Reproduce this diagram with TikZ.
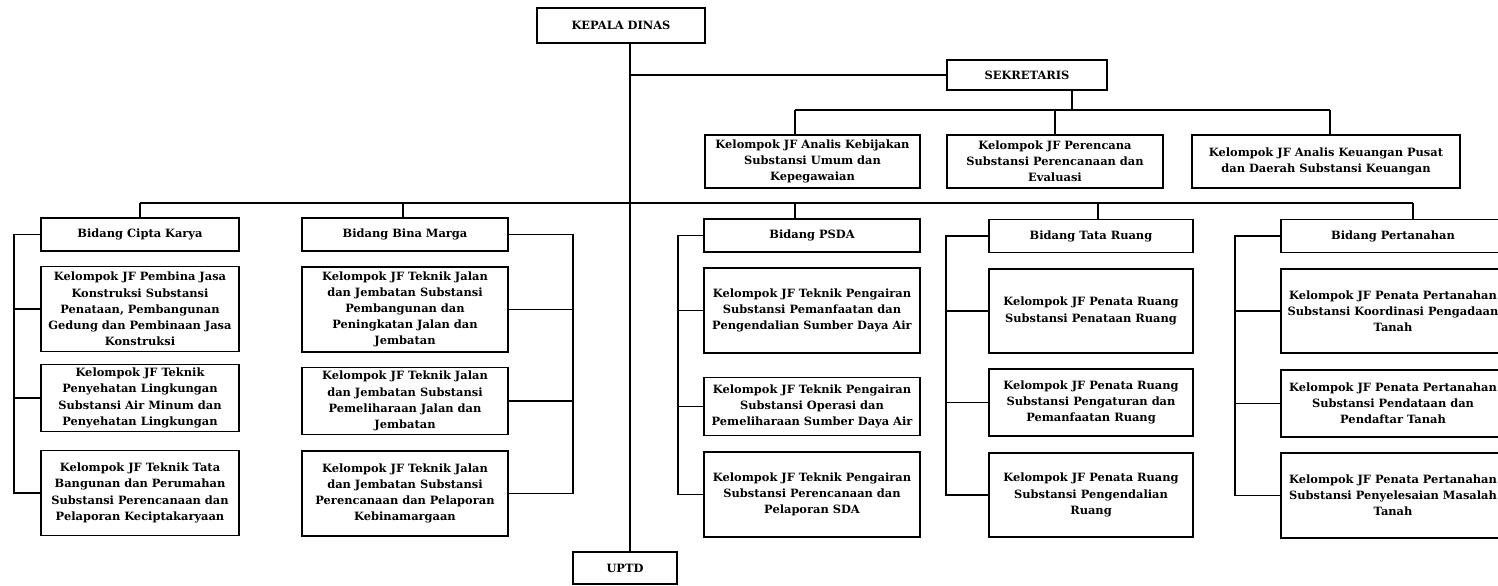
\documentclass[tikz,border=0pt]{standalone}
\usepackage{fontspec}
\setmainfont{DejaVu Serif}
\usetikzlibrary{positioning}
\usetikzlibrary{calc}
\tikzset{box/.style={draw,line width=0.9pt,align=center,inner sep=1pt,font=\fontsize{6.5}{9.2}\selectfont\bfseries}}
\tikzset{ln/.style={line width=0.9pt}}

\begin{document}
\begin{tikzpicture}[x=0.02cm,y=-0.02cm]
\useasboundingbox (0,0) rectangle (1498,585);
\begin{scope}
% top
\node[box,minimum width=3.36cm,minimum height=0.7cm] (KD) at (621,25.5) {KEPALA DINAS};
\node[box,minimum width=3.2cm,minimum height=0.6cm] (SK) at (1027,75) {SEKRETARIS};
\node[box,minimum width=2.08cm,minimum height=0.64cm] (U) at (625,568) {UPTD};

\node[box,minimum width=4.3cm,minimum height=1.06cm] (J1) at (812.5,161.5) {Kelompok JF Analis Kebijakan\\Substansi Umum dan\\Kepegawaian};
\node[box,minimum width=4.32cm,minimum height=1.06cm] (J2) at (1055,161.5) {Kelompok JF Perencana\\Substansi Perencanaan dan\\Evaluasi};
\node[box,minimum width=5.36cm,minimum height=1.06cm] (J3) at (1326,161.5) {Kelompok JF Analis Keuangan Pusat\\dan Daerah Substansi Keuangan};

% bidang
\node[box,minimum width=3.96cm,minimum height=0.66cm] (CK) at (140,234.5) {Bidang Cipta Karya};
\node[box,minimum width=4.12cm,minimum height=0.66cm] (BM) at (405,234.5) {Bidang Bina Marga};
\node[box,minimum width=4.32cm,minimum height=0.66cm] (PS) at (812,235.5) {Bidang PSDA};
\node[box,minimum width=4.08cm,minimum height=0.66cm] (TR) at (1091,236) {Bidang Tata Ruang};
\node[box,minimum width=4.48cm,minimum height=0.66cm] (PT) at (1393,236) {Bidang Pertanahan};

% cipta karya
\node[box,minimum width=3.96cm,minimum height=1.7cm] (CK1) at (140,309) {Kelompok JF Pembina Jasa\\Konstruksi Substansi\\Penataan, Pembangunan\\Gedung dan Pembinaan Jasa\\Konstruksi};
\node[box,minimum width=3.96cm,minimum height=1.34cm] (CK2) at (140,398) {Kelompok JF Teknik\\Penyehatan Lingkungan\\Substansi Air Minum dan\\Penyehatan Lingkungan};
\node[box,minimum width=3.96cm,minimum height=1.7cm] (CK3) at (140,493) {Kelompok JF Teknik Tata\\Bangunan dan Perumahan\\Substansi Perencanaan dan\\Pelaporan Keciptakaryaan};

% bina marga
\node[box,minimum width=4.12cm,minimum height=1.7cm] (BM1) at (405,309.5) {Kelompok JF Teknik Jalan\\dan Jembatan Substansi\\Pembangunan dan\\Peningkatan Jalan dan\\Jembatan};
\node[box,minimum width=4.12cm,minimum height=1.34cm] (BM2) at (405,401) {Kelompok JF Teknik Jalan\\dan Jembatan Substansi\\Pemeliharaan Jalan dan\\Jembatan};
\node[box,minimum width=4.12cm,minimum height=1.7cm] (BM3) at (405,493.5) {Kelompok JF Teknik Jalan\\dan Jembatan Substansi\\Perencanaan dan Pelaporan\\Kebinamargaan};

% psda
\node[box,minimum width=4.32cm,minimum height=1.7cm] (PS1) at (812,310.5) {Kelompok JF Teknik Pengairan\\Substansi Pemanfaatan dan\\Pengendalian Sumber Daya Air};
\node[box,minimum width=4.32cm,minimum height=1.16cm] (PS2) at (812,406.5) {Kelompok JF Teknik Pengairan\\Substansi Operasi dan\\Pemeliharaan Sumber Daya Air};
\node[box,minimum width=4.32cm,minimum height=1.7cm] (PS3) at (812,494.5) {Kelompok JF Teknik Pengairan\\Substansi Perencanaan dan\\Pelaporan SDA};

% tata ruang
\node[box,minimum width=4.08cm,minimum height=1.68cm] (TR1) at (1091,311) {Kelompok JF Penata Ruang\\Substansi Penataan Ruang};
\node[box,minimum width=4.08cm,minimum height=1.34cm] (TR2) at (1091,402.5) {Kelompok JF Penata Ruang\\Substansi Pengaturan dan\\Pemanfaatan Ruang};
\node[box,minimum width=4.08cm,minimum height=1.68cm] (TR3) at (1091,495) {Kelompok JF Penata Ruang\\Substansi Pengendalian\\Ruang};

% pertanahan
\node[box,minimum width=4.48cm,minimum height=1.68cm] (PT1) at (1393,311) {Kelompok JF Penata Pertanahan\\Substansi Koordinasi Pengadaan\\Tanah};
\node[box,minimum width=4.48cm,minimum height=1.34cm] (PT2) at (1393,403.5) {Kelompok JF Penata Pertanahan\\Substansi Pendataan dan\\Pendaftar Tanah};
\node[box,minimum width=4.48cm,minimum height=1.7cm] (PT3) at (1393,495.5) {Kelompok JF Penata Pertanahan\\Substansi Penyelesaian Masalah\\Tanah};

% lines
\coordinate (trk) at (630,0);
\coordinate (sd) at (1072,110);
\coordinate (j1) at (795,110);
\coordinate (j2) at (1055,110);
\coordinate (j3) at (1330,110);
\coordinate (b1) at (140,203);
\coordinate (b2) at (403,203);
\coordinate (b3) at (795,203);
\coordinate (b4) at (1098,203);
\coordinate (b5) at (1413,203);

\draw[ln] (KD.south -| trk) -- (U.north -| trk);
\draw[ln] (trk |- SK.west) -- (SK.west);
\draw[ln] (SK.south -| sd) -- (sd);
\draw[ln] (j1) -- (j3);
\draw[ln] (j1) -- (j1 |- J1.north);
\draw[ln] (j2) -- (j2 |- J2.north);
\draw[ln] (j3) -- (j3 |- J3.north);
\draw[ln] (b1) -- (b5);
\draw[ln] (b1) -- (b1 |- CK.north);
\draw[ln] (b2) -- (b2 |- BM.north);
\draw[ln] (b3) -- (b3 |- PS.north);
\draw[ln] (b4) -- (b4 |- TR.north);
\draw[ln] (b5) -- (b5 |- PT.north);

\coordinate (ck) at (14,0);
\coordinate (bm) at (573,0);
\coordinate (ps) at (678,0);
\coordinate (tr) at (946,0);
\coordinate (pt) at (1235,0);

\draw[ln] (CK.west) -| (ck |- CK3.west) -- (CK3.west);
\draw[ln] (CK1.west) -- (CK1.west -| ck);
\draw[ln] (CK2.west) -- (CK2.west -| ck);
\draw[ln] (BM.east) -| (bm |- BM3.east) -- (BM3.east);
\draw[ln] (BM1.east) -- (BM1.east -| bm);
\draw[ln] (BM2.east) -- (BM2.east -| bm);
\draw[ln] (PS.west) -| (ps |- PS3.west) -- (PS3.west);
\draw[ln] (PS1.west) -- (PS1.west -| ps);
\draw[ln] (PS2.west) -- (PS2.west -| ps);
\draw[ln] (TR.west) -| (tr |- TR3.west) -- (TR3.west);
\draw[ln] (TR1.west) -- (TR1.west -| tr);
\draw[ln] (TR2.west) -- (TR2.west -| tr);
\draw[ln] (PT.west) -| (pt |- PT3.west) -- (PT3.west);
\draw[ln] (PT1.west) -- (PT1.west -| pt);
\draw[ln] (PT2.west) -- (PT2.west -| pt);
\end{scope}
\end{tikzpicture}
\end{document}
